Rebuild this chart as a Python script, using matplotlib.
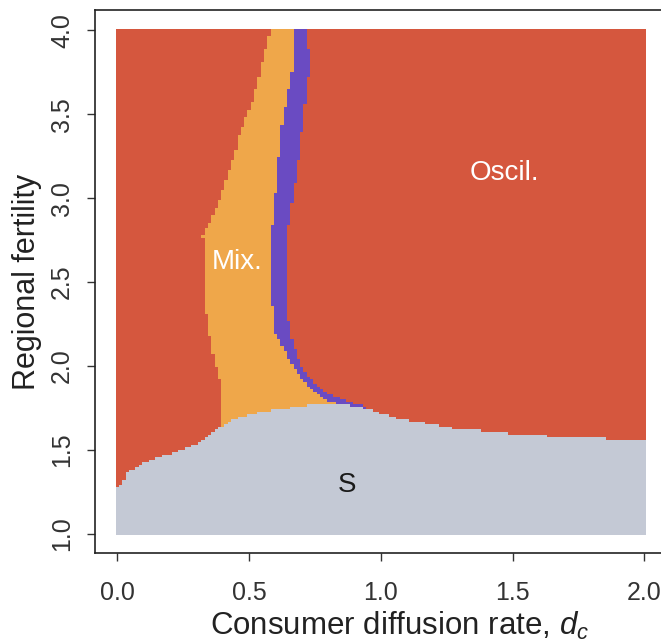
import numpy as np
import matplotlib
matplotlib.use('Agg')
import matplotlib.pyplot as plt
from matplotlib.colors import ListedColormap

plt.rcParams['font.family'] = ['Liberation Sans', 'DejaVu Sans']
plt.rcParams['mathtext.fontset'] = 'custom'
plt.rcParams['mathtext.it'] = 'Liberation Sans:italic'
plt.rcParams['mathtext.rm'] = 'Liberation Sans'

# upper edge of the stable (S) region, as a function of consumer diffusion rate
s_dc = [0.0, 0.02, 0.04, 0.12, 0.22, 0.31, 0.375, 0.44, 0.5, 0.565,
        0.65, 0.72, 0.8, 0.87, 0.93, 1.06, 1.27, 1.56, 1.85, 2.0]
s_top = [1.28, 1.30, 1.37, 1.44, 1.49, 1.54, 1.62, 1.68, 1.71, 1.73,
         1.75, 1.765, 1.78, 1.77, 1.75, 1.69, 1.63, 1.59, 1.57, 1.56]

# left edge of the mixed region, as a function of regional fertility
mix_fert = [1.70, 1.875, 2.08, 2.27, 2.43, 2.77, 2.80, 2.83, 2.99, 3.09,
            3.29, 3.39, 3.58, 3.78, 3.90, 4.01]
mix_left = [0.40, 0.395, 0.36, 0.34, 0.33, 0.325, 0.33, 0.345, 0.39, 0.41,
            0.45, 0.465, 0.515, 0.545, 0.565, 0.585]

# narrow band between mixed and oscillating dynamics
band_fert = [1.74, 1.76, 1.79, 1.84, 1.93, 2.03, 2.20, 2.39, 2.79, 3.19,
             3.39, 3.52, 3.72, 3.78, 4.01]
band_left = [0.90, 0.87, 0.805, 0.75, 0.70, 0.655, 0.60, 0.585, 0.585, 0.61,
             0.62, 0.635, 0.66, 0.665, 0.672]
band_right = [0.96, 0.94, 0.88, 0.79, 0.73, 0.69, 0.655, 0.64, 0.645, 0.685,
              0.70, 0.71, 0.725, 0.73, 0.72]

region_colors = ['#c4c9d5', '#d5573e', '#efa74a', '#6a4bc2']
region_labels = ['S', 'Oscil.', 'Mix.']

# parameter grid of the simulations
dc = np.linspace(0, 2, 161)
fert = np.linspace(1, 4, 201)
D, F = np.meshgrid(dc, fert)

code = np.ones_like(D)  # oscillating
left = np.interp(F, mix_fert, mix_left)
b_left = np.interp(F, band_fert, band_left)
b_right = np.interp(F, band_fert, band_right)
code[(D >= left) & (D < b_left)] = 2
code[(D >= b_left) & (D < b_right)] = 3
code[F < np.interp(D, s_dc, s_top)] = 0

fig = plt.figure(figsize=(6.61, 6.42), dpi=100)
ax = fig.add_axes([0.1437, 0.1386, 0.865, 0.8458])
ax.pcolormesh(dc, fert, code, cmap=ListedColormap(region_colors),
              vmin=-0.5, vmax=3.5, shading='nearest')

ax.text(0.456, 2.62, region_labels[2], color='white', fontsize=20,
        ha='center', va='center')
ax.text(1.47, 3.15, region_labels[1], color='white', fontsize=20,
        ha='center', va='center')
ax.text(0.87, 1.29, region_labels[0], color='#1a1a1a', fontsize=20,
        ha='center', va='center')

ax.set_xlim(-0.085, 2.085)
ax.set_ylim(0.887, 4.12)
ax.set_xticks([0.0, 0.5, 1.0, 1.5, 2.0])
ax.set_yticks([1.0, 1.5, 2.0, 2.5, 3.0, 3.5, 4.0])
ax.set_xticklabels(['0.0', '0.5', '1.0', '1.5', '2.0'])
ax.set_yticklabels(['1.0', '1.5', '2.0', '2.5', '3.0', '3.5', '4.0'],
                   rotation=90, va='center')
ax.tick_params(direction='out', length=6, width=1, labelsize=18,
               labelcolor='#333333', color='#333333')
ax.tick_params(axis='x', pad=14)
ax.tick_params(axis='y', pad=9)
for s in ax.spines.values():
    s.set_linewidth(1.2)
    s.set_color('#222222')

ax.set_xlabel(r'Consumer diffusion rate, $d_c$', fontsize=22.5,
              color='#222222')
ax.xaxis.set_label_coords(0.532, -0.104)
ax.set_ylabel('Regional fertility', fontsize=22, color='#222222', labelpad=6)

fig.savefig('out.png', dpi=100)
